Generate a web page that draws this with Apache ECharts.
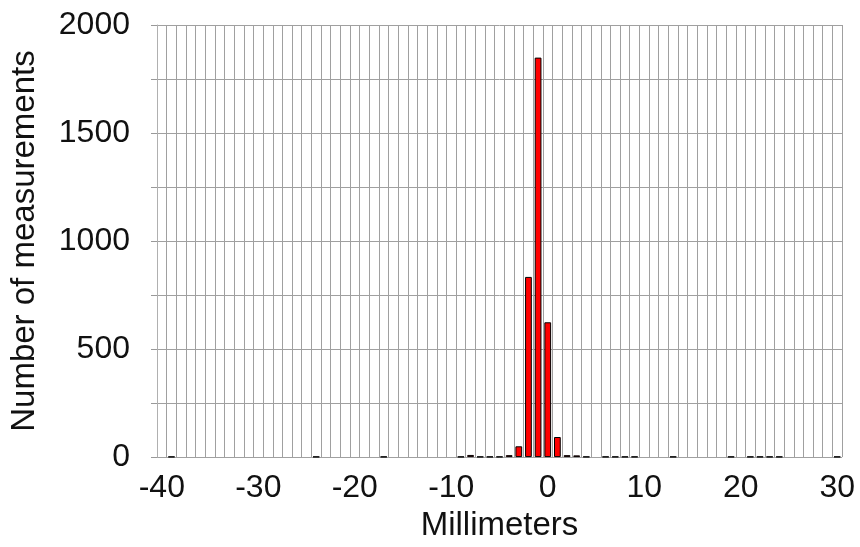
<!DOCTYPE html>
<html>
<head>
<meta charset="utf-8">
<script src="https://cdn.jsdelivr.net/npm/echarts@6/dist/echarts.min.js"></script>
<style>html,body{margin:0;padding:0;background:#fff}#c{width:860px;height:547px}</style>
</head>
<body>
<div id="c"></div>
<script>
// Bin centres (mm) for the category axis
const categories = [-40,-39,-38,-37,-36,-35,-34,-33,-32,-31,-30,-29,-28,-27,-26,-25,-24,-23,-22,-21,
  -20,-19,-18,-17,-16,-15,-14,-13,-12,-11,-10,-9,-8,-7,-6,-5,-4,-3,-2,-1,
  0,1,2,3,4,5,6,7,8,9,10,11,12,13,14,15,16,17,18,19,
  20,21,22,23,24,25,26,27,28,29,30];
// Non-empty bins and their counts
const bins   = [-39,-24,-17,-9,-8,-7,-6,-5,-4,-3,-2,-1,0,1,2,3,4,6,7,8,9,13,19,21,22,23,24,30];
const counts = [2,2,2,2,10,2,2,2,9,50,834,1849,624,93,9,8,2,2,2,2,2,2,2,2,2,2,2,2];
const yTicks = [0,500,1000,1500,2000];

const data = categories.map(c => {
  const i = bins.indexOf(c);
  return i >= 0 ? counts[i] : null;
});

const font = 'Liberation Sans, Arial, sans-serif';
const chart = echarts.init(document.getElementById('c'));
chart.setOption({
  animation: false,
  grid: { left: 157, right: 18, top: 25, bottom: 86, containLabel: false },
  xAxis: {
    type: 'category',
    data: categories,
    boundaryGap: true,
    name: 'Millimeters',
    nameLocation: 'middle',
    nameGap: 50,
    nameTextStyle: { fontFamily: font, fontSize: 33, color: '#111' },
    axisLine: { show: false },
    axisTick: { show: false },
    axisLabel: { interval: 9, margin: 15, fontFamily: font, fontSize: 32, color: '#111' },
    splitLine: { show: true, interval: 0, lineStyle: { color: '#a0a0a0', width: 1 } }
  },
  yAxis: {
    type: 'value',
    min: 0, max: 2000, interval: 250,
    name: 'Number of measurements',
    nameLocation: 'middle',
    nameGap: 116,
    nameTextStyle: { fontFamily: font, fontSize: 33, color: '#111' },
    axisLine: { show: true, lineStyle: { color: '#b0b0b0' } },
    axisTick: { show: true, length: 6, lineStyle: { color: '#999' } },
    axisLabel: {
      margin: 27, fontFamily: font, fontSize: 32, color: '#111',
      formatter: v => yTicks.indexOf(v) >= 0 ? String(v) : ''
    },
    splitLine: { show: true, lineStyle: { color: '#a0a0a0', width: 1 } }
  },
  series: [{
    type: 'bar',
    data: data,
    barWidth: '70%',
    itemStyle: { color: '#ff0000', borderColor: '#000', borderWidth: 1 }
  }]
});
</script>
</body>
</html>
